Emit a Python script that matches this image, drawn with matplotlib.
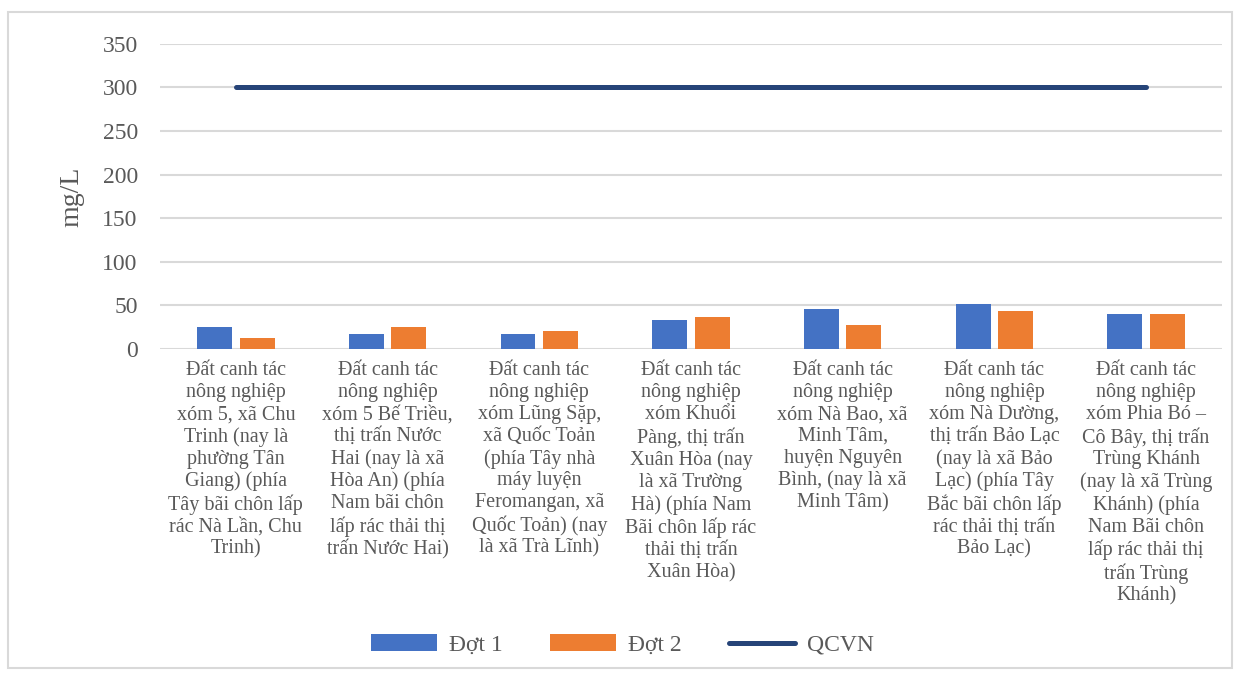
import matplotlib
matplotlib.use('Agg')
import matplotlib.pyplot as plt
import numpy as np
from matplotlib.patches import Rectangle

plt.rcParams['font.family'] = ['Liberation Serif', 'DejaVu Serif']

categories = [
    "Đất canh tác\nnông nghiệp\nxóm 5, xã Chu\nTrinh (nay là\nphường Tân\nGiang) (phía\nTây bãi chôn lấp\nrác Nà Lần, Chu\nTrinh)",
    "Đất canh tác\nnông nghiệp\nxóm 5 Bế Triều,\nthị trấn Nước\nHai (nay là xã\nHòa An) (phía\nNam bãi chôn\nlấp rác thải thị\ntrấn Nước Hai)",
    "Đất canh tác\nnông nghiệp\nxóm Lũng Sặp,\nxã Quốc Toản\n(phía Tây nhà\nmáy luyện\nFeromangan, xã\nQuốc Toản) (nay\nlà xã Trà Lĩnh)",
    "Đất canh tác\nnông nghiệp\nxóm Khuổi\nPàng, thị trấn\nXuân Hòa (nay\nlà xã Trường\nHà) (phía Nam\nBãi chôn lấp rác\nthải thị trấn\nXuân Hòa)",
    "Đất canh tác\nnông nghiệp\nxóm Nà Bao, xã\nMinh Tâm,\nhuyện Nguyên\nBình, (nay là xã\nMinh Tâm)",
    "Đất canh tác\nnông nghiệp\nxóm Nà Dường,\nthị trấn Bảo Lạc\n(nay là xã Bảo\nLạc) (phía Tây\nBắc bãi chôn lấp\nrác thải thị trấn\nBảo Lạc)",
    "Đất canh tác\nnông nghiệp\nxóm Phia Bó –\nCô Bây, thị trấn\nTrùng Khánh\n(nay là xã Trùng\nKhánh) (phía\nNam Bãi chôn\nlấp rác thải thị\ntrấn Trùng\nKhánh)",
]
dot1 = [25, 17, 17, 33, 46, 52, 40]
dot2 = [13, 25, 21, 37, 27, 44, 40]
qcvn = [300, 300, 300, 300, 300, 300, 300]

text_color = '#595959'
grid_color = '#D9D9D9'

fig = plt.figure(figsize=(12.45, 6.75), dpi=100)
fig.patches.append(Rectangle((8 / 1245, 1 - 668 / 675), 1224 / 1245, 656 / 675,
                             transform=fig.transFigure, fill=False,
                             edgecolor=grid_color, linewidth=1.5))
ax = fig.add_axes([0.1285, 0.483, 0.853, 0.452])

x = np.arange(len(categories))
w = 0.23
b1 = ax.bar(x - 0.14, dot1, w, color='#4472C4', label='Đợt 1', zorder=3)
b2 = ax.bar(x + 0.14, dot2, w, color='#ED7D31', label='Đợt 2', zorder=3)
ln, = ax.plot(x, qcvn, color='#264478', linewidth=3.6, solid_capstyle='round',
              label='QCVN', zorder=4)

ax.set_xlim(-0.5, len(categories) - 0.5)
ax.set_ylim(0, 350)
ax.set_yticks(range(0, 351, 50))
ax.grid(axis='y', color=grid_color, linewidth=1.5, zorder=0)
for s in ax.spines.values():
    s.set_visible(False)
ax.tick_params(axis='both', length=0, colors=text_color)
ax.tick_params(axis='y', labelsize=17, pad=16)
ax.set_xticks(x)
ax.set_xticklabels(categories, fontsize=14.5, linespacing=1.2, color=text_color)
ax.tick_params(axis='x', pad=9)
ax.set_ylabel('mg/L', fontsize=20, color=text_color, labelpad=13)

fig.legend([b1, b2, ln], ['Đợt 1', 'Đợt 2', 'QCVN'], loc='center',
           bbox_to_anchor=(0.5, 1 - 645 / 675), ncol=3,
           frameon=False, fontsize=17, handlelength=2.8, handleheight=0.7,
           columnspacing=2.0, handletextpad=0.5, labelcolor=text_color)

fig.savefig('out.png', dpi=100)
